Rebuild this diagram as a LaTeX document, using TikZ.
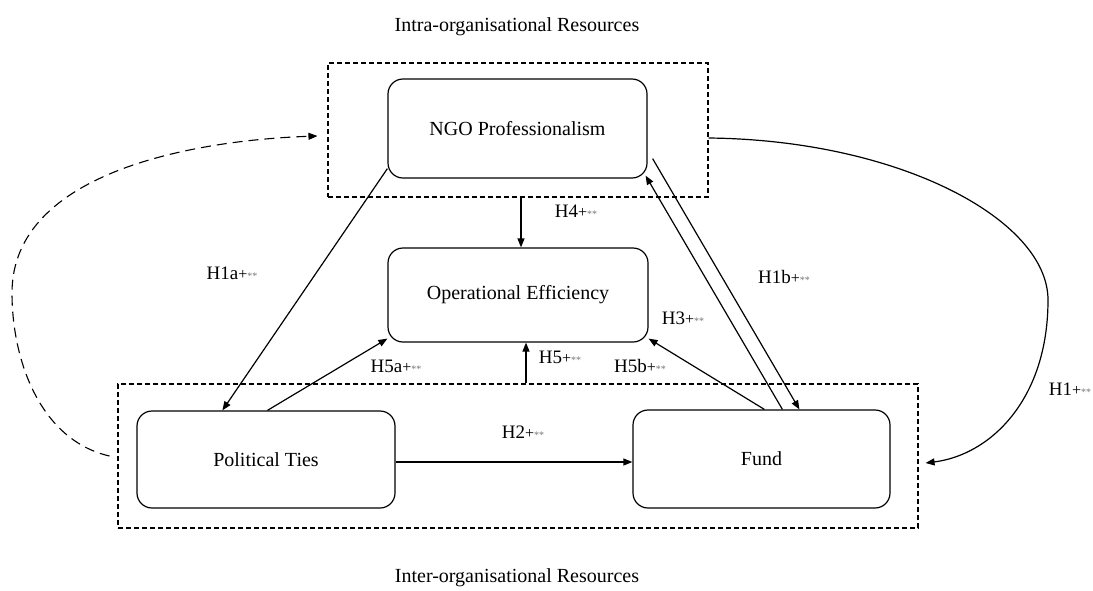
\documentclass[tikz,border=0pt]{standalone}
\usepackage{fontspec}
\setmainfont{Liberation Serif}
\usetikzlibrary{arrows.meta}
\newcommand{\hyp}[1]{#1{\fontsize{16}{16}\selectfont +}{\color{black!55}\fontsize{10}{10}\selectfont **}}
\tikzset{
  box/.style={draw, line width=1.2pt, rounded corners=15pt, font=\fontsize{20}{24}\selectfont, inner sep=0pt},
  dbox/.style={draw, line width=1.1pt, dash pattern=on 5pt off 3pt, inner sep=0pt},
  conn/.style={line width=1.2pt, -{Triangle[length=9pt,width=7pt]}},
  lab/.style={font=\fontsize{19}{22}\selectfont, inner sep=0pt},
  ttl/.style={font=\fontsize{20}{24}\selectfont, inner sep=0pt}
}
\begin{document}
\begin{tikzpicture}[x=1pt,y=-1pt]
\useasboundingbox (0,0) rectangle (1093,590);
% group frames
\node[dbox, minimum width=380pt, minimum height=134pt] (intra) at (518,130) {};
\node[dbox, minimum width=800pt, minimum height=144pt] (inter) at (518,456) {};
% titles
\node[ttl] (intraT) at (517,27) {Intra-organisational Resources};
\node[ttl] (interT) at (517,578) {Inter-organisational Resources};
% boxes
\node[box, fill=white, minimum width=259pt, minimum height=99pt] (ngo) at (517.5,128.5) {NGO Professionalism};
\node[box, minimum width=260pt, minimum height=94pt] (oe) at (518,295) {Operational Efficiency};
\node[box, fill=white, minimum width=258pt, minimum height=97pt] (pt) at (266,459.5) {Political Ties};
\node[box, fill=white, minimum width=257pt, minimum height=98pt] (fund) at (761.5,459) {Fund};
% connectors
\draw[conn] ([yshift=10pt]ngo.south west) -- ([xshift=86pt]pt.north west);
\draw[conn] ([xshift=131pt]pt.north west) -- ([yshift=4pt]oe.south west);
\draw[conn] ([xshift=3pt]intra.south) -- ([xshift=3pt]oe.north);
\draw[conn] ([xshift=8pt]inter.north) -- ([xshift=8pt]oe.south);
\draw[conn] ([xshift=132pt]fund.north west) -- ([yshift=4pt]oe.south east);
\draw[conn] ([xshift=150pt]fund.north west) -- ([shift={(-2pt,3pt)}]ngo.south east);
\draw[conn] ([shift={(5pt,20pt)}]ngo.south east) -- ([xshift=167pt]fund.north west);
\draw[conn] ([yshift=-2.5pt]pt.east) -- ([yshift=-2.5pt]pt.east -| fund.west);
\draw[conn] ([yshift=-8pt]intra.east) .. controls (900,140) and (1048,220) .. (1048,300)
  .. controls (1048,400) and (990,455) .. ([shift={(7pt,-7pt)}]inter.east);
\draw[line width=1.1pt, dash pattern=on 10pt off 6pt, -{Triangle[length=9pt,width=7pt]}]
  ([xshift=-8pt]inter.west) .. controls (40,440) and (12,360) .. (12,293)
  .. controls (12,170) and (200,140) .. ([shift={(-10pt,-6pt)}]intra.west);
% labels
\node[lab] (l1a) at (232,273) {\hyp{H1a}};
\node[lab] (l4) at (576,211) {\hyp{H4}};
\node[lab] (l1b) at (784,277) {\hyp{H1b}};
\node[lab] (l3) at (683,318) {\hyp{H3}};
\node[lab] (l5b) at (640,366) {\hyp{H5b}};
\node[lab] (l5) at (560,357) {\hyp{H5}};
\node[lab] (l5a) at (396,366) {\hyp{H5a}};
\node[lab] (l2) at (523,432) {\hyp{H2}};
\node[lab] (l1) at (1070,389) {\hyp{H1}};
\end{tikzpicture}
\end{document}
